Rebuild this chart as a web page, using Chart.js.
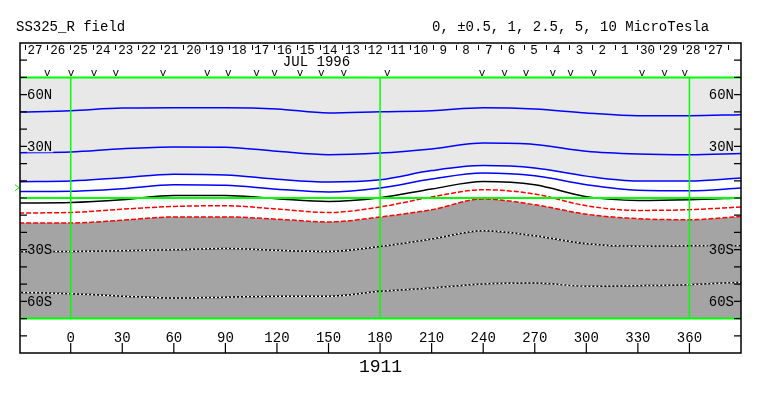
<!DOCTYPE html>
<html>
<head>
<meta charset="utf-8">
<script src="https://cdn.jsdelivr.net/npm/chart.js@4.4.0/dist/chart.umd.min.js"></script>
<style>
  body { margin: 0; background: #fff; }
  #wrap { width: 763px; height: 396px; }
</style>
</head>
<body>
<div id="wrap"><canvas id="chart" width="763" height="396"></canvas></div>
<script>
// Carrington longitude grid the contours were read at
const lons = [-30, 0, 30, 60, 90, 120, 150, 180, 210, 240, 270, 300, 330, 360, 390];

// latitude of each R-field contour (microtesla)
const pos5  = [49.9, 50.7, 52.2, 52.4, 52.4, 51.7, 49.4, 50.1, 50.7, 52.4, 51.7, 49.4, 47.8, 47.8, 48.4];
const pos25 = [26.3, 26.7, 28.6, 29.6, 29.5, 27.1, 25.1, 26.1, 28.5, 31.9, 31.1, 27.1, 25.5, 25.1, 25.8];
const pos1  = [9.5, 9.9, 11.8, 13.8, 13.4, 10.9, 9.3, 10.6, 15.9, 18.8, 17.4, 12.7, 9.9, 9.9, 11.6];
const pos05 = [3.7, 3.9, 5.4, 7.7, 7.4, 5.1, 3.5, 5.8, 11.0, 14.5, 12.9, 7.7, 4.5, 4.2, 5.8];
const zero  = [-2.9, -2.6, -1.0, 1.5, 1.5, -0.4, -2.0, 0.2, 5.2, 9.6, 7.7, 0.8, -1.4, -1.0, 0.0];
const neg05 = [-8.7, -8.4, -6.5, -4.9, -4.5, -6.4, -8.4, -5.2, 0.6, 4.8, 2.3, -4.5, -7.2, -6.8, -5.2];
const neg1  = [-14.5, -14.5, -12.9, -11.0, -11.0, -12.3, -13.9, -11.0, -6.8, -0.6, -3.9, -9.4, -12.0, -12.6, -10.7];
const neg25 = [-31.2, -31.0, -30.6, -30.0, -29.3, -30.4, -31.0, -28.1, -23.8, -19.0, -21.9, -26.5, -28.0, -27.7, -27.7];
const neg5  = [-54.8, -55.6, -57.0, -58.1, -57.6, -57.1, -57.1, -54.2, -52.3, -49.9, -49.4, -51.2, -50.9, -50.3, -48.9];

// axis labels
const xTicks = [0, 30, 60, 90, 120, 150, 180, 210, 240, 270, 300, 330, 360];
const latLabels = [60, 30, -30, -60];
const greenLons = [0, 180, 360];
const days = [27, 26, 25, 24, 23, 22, 21, 20, 19, 18, 17, 16, 15, 14, 13, 12, 11, 10, 9, 8, 7, 6, 5, 4, 3, 2, 1, 30, 29, 28, 27];
const dayStart = -26.8;   // longitude of first day tick
const daySpan = 13.2;     // degrees per day
const obsMarks = [-13.6, 0.2, 13.6, 26.2, 53.7, 79.5, 91.7, 108.2, 118.6, 133.4, 145.8, 158.9,
                  184.2, 239.4, 252.4, 265.0, 280.5, 290.8, 304.4, 332.5, 345.5, 357.3];
const earthLat = 6;

const FONT = '"Liberation Mono", "DejaVu Sans Mono", monospace';
const LIGHT = '#e8e8e8';
const DARK = '#a4a4a4';
const GREEN = '#00ff00';

function pts(vals) {
    return lons.map((lon, i) => ({ x: lon, y: vals[i] }));
}

function line(vals, color, extra) {
    return Object.assign({
        data: pts(vals),
        borderColor: color,
        borderWidth: 1.5,
        pointRadius: 0,
        fill: false,
        cubicInterpolationMode: 'monotone'
    }, extra || {});
}

// axes, labels, reference lines
const decorations = {
    id: 'decorations',
    afterDatasetsDraw(chart) {
        const c = chart.ctx;
        const xs = chart.scales.x, ys = chart.scales.y;
        const a = chart.chartArea;
        c.save();

        // green reference lines
        c.strokeStyle = GREEN;
        c.lineWidth = 2;
        [70, 0, -70].forEach(lat => {
            const y = ys.getPixelForValue(lat);
            c.beginPath(); c.moveTo(a.left, y); c.lineTo(a.right, y); c.stroke();
        });
        c.lineWidth = 1.5;
        greenLons.forEach(lon => {
            const x = xs.getPixelForValue(lon);
            c.beginPath();
            c.moveTo(x, ys.getPixelForValue(70));
            c.lineTo(x, ys.getPixelForValue(-70));
            c.stroke();
        });

        // frame
        c.strokeStyle = '#000';
        c.lineWidth = 1.5;
        c.strokeRect(a.left, a.top, a.right - a.left, a.bottom - a.top);

        // latitude ticks every 10 deg, inward
        c.lineWidth = 1.2;
        for (let lat = -80; lat <= 80; lat += 10) {
            const y = ys.getPixelForValue(lat);
            c.beginPath();
            c.moveTo(a.left, y); c.lineTo(a.left + 7, y);
            c.moveTo(a.right, y); c.lineTo(a.right - 7, y);
            c.stroke();
        }

        // latitude labels with background patch
        c.font = '14px ' + FONT;
        c.textBaseline = 'middle';
        latLabels.forEach(lat => {
            const y = ys.getPixelForValue(lat);
            const txt = Math.abs(lat) + (lat > 0 ? 'N' : 'S');
            const w = c.measureText(txt).width;
            c.fillStyle = lat > 0 ? LIGHT : DARK;
            c.fillRect(a.left + 7, y - 6, w + 1, 12);
            c.fillRect(a.right - 8 - w, y - 6, w + 1, 12);
            c.fillStyle = '#000';
            c.textAlign = 'left';
            c.fillText(txt, a.left + 7, y + 1);
            c.textAlign = 'right';
            c.fillText(txt, a.right - 7, y + 1);
        });

        // longitude ticks and labels
        c.textAlign = 'center';
        xTicks.forEach(lon => {
            const x = xs.getPixelForValue(lon);
            c.beginPath(); c.moveTo(x, a.bottom - 10); c.lineTo(x, a.bottom); c.stroke();
            c.fillText(String(lon), x, a.bottom - 15);
        });

        // day ticks and labels
        c.font = '12.5px ' + FONT;
        c.lineWidth = 1;
        for (let i = 0; i <= days.length; i++) {
            const x = Math.round(xs.getPixelForValue(dayStart + i * daySpan)) + 0.5;
            c.beginPath(); c.moveTo(x, a.top + 2); c.lineTo(x, a.top + 7); c.stroke();
        }
        days.forEach((d, i) => {
            const x = xs.getPixelForValue(dayStart + (i + 0.5) * daySpan) - 1;
            c.fillText(String(d), x, a.top + 8);
        });
        c.font = '14px ' + FONT;
        c.fillText('JUL 1996', xs.getPixelForValue(143), a.top + 19);

        // observation marks
        c.font = '11px ' + FONT;
        obsMarks.forEach(lon => {
            c.fillText('v', xs.getPixelForValue(lon), a.top + 30);
        });

        // earth latitude marker
        const ey = ys.getPixelForValue(earthLat);
        c.strokeStyle = GREEN;
        c.lineWidth = 1;
        c.beginPath();
        c.moveTo(a.left - 5, ey - 3); c.lineTo(a.left - 1, ey); c.lineTo(a.left - 5, ey + 3);
        c.stroke();

        // titles
        c.fillStyle = '#000';
        c.font = '14px ' + FONT;
        c.textAlign = 'left';
        c.fillText('SS325_R field', 16, 27);
        c.fillText('0, \u00b10.5, 1, 2.5, 5, 10 MicroTesla', 432, 27);
        c.font = '18px ' + FONT;
        c.textAlign = 'center';
        c.fillText('1911', (a.left + a.right) / 2, 367);
        c.restore();
    }
};

const dotted = { borderColor: '#000', borderWidth: 1.5 };
const whiteDash = { borderColor: '#fff', borderWidth: 1.5, borderDash: [2, 2] };

new Chart(document.getElementById('chart'), {
    type: 'line',
    data: {
        datasets: [
            line(pos5, '#0000ff'),
            line(pos25, '#0000ff'),
            line(pos1, '#0000ff', { fill: { value: 70 }, backgroundColor: LIGHT }),
            line(pos05, '#0000ff'),
            line(zero, '#000000'),
            line(neg05, '#ff0000', { borderDash: [5, 2] }),
            line(neg1, '#ff0000', { borderDash: [5, 2], fill: { value: -70 }, backgroundColor: DARK }),
            line(neg25, '#000', whiteDash),
            line(neg25, '#000', dotted),
            line(neg5, '#000', whiteDash),
            line(neg5, '#000', dotted)
        ]
    },
    options: {
        responsive: false,
        animation: false,
        layout: { padding: { left: 20, top: 43, right: 22, bottom: 43 } },
        scales: {
            x: { type: 'linear', min: -29.5, max: 390, display: false },
            y: { type: 'linear', min: -90, max: 90, display: false }
        },
        plugins: {
            legend: { display: false },
            tooltip: { enabled: false },
            filler: { drawTime: 'beforeDatasetsDraw' }
        }
    },
    plugins: [decorations]
});
</script>
</body>
</html>
